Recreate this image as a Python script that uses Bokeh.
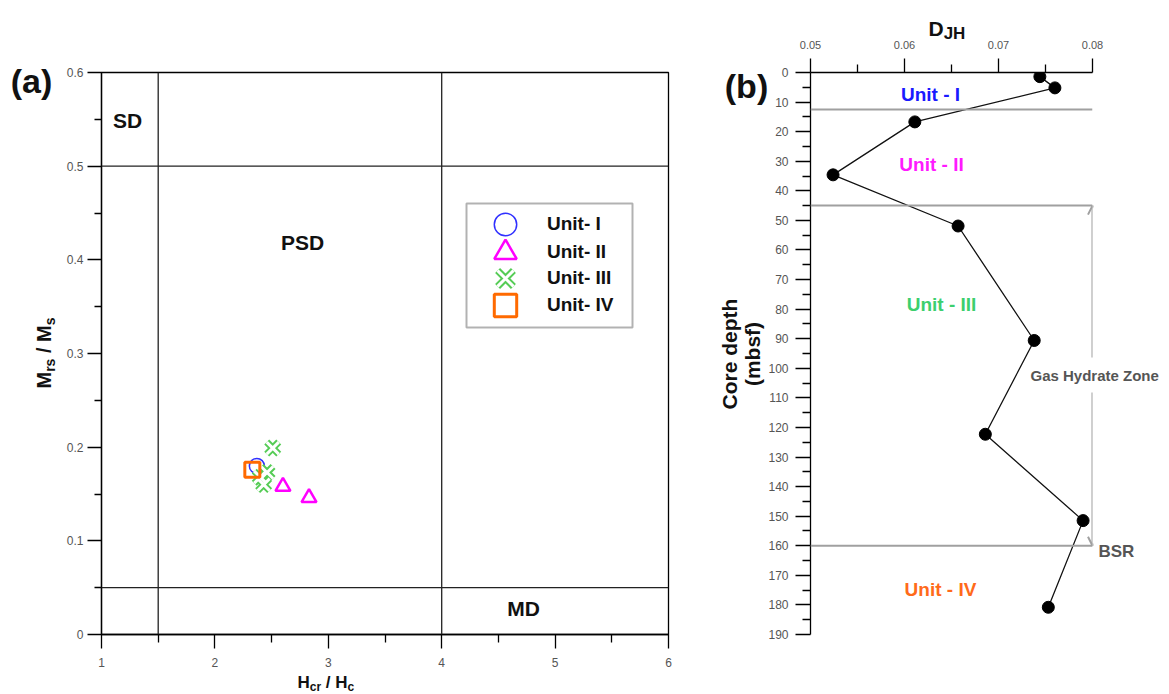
import math
from bokeh.plotting import figure
from bokeh.models import (Range1d, Span, Label, Legend, LegendItem, BoxAnnotation,
                          Arrow, OpenHead, FixedTicker, GridBox)
from bokeh.embed import file_html
from bokeh.resources import INLINE

FONT = "Liberation Sans"

# ---------------- Panel (a) data: Day plot ----------------
unit_labels = ["Unit- I", "Unit- II", "Unit- III", "Unit- IV"]
u1_hcr_hc = [2.37]
u1_mrs_ms = [0.180]
u2_hcr_hc = [2.60, 2.83]
u2_mrs_ms = [0.158, 0.146]
u3_hcr_hc = [2.51, 2.46, 2.43, 2.40]
u3_mrs_ms = [0.199, 0.173, 0.160, 0.168]
u4_hcr_hc = [2.33]
u4_mrs_ms = [0.176]
domain_x_bounds = [1.5, 4.0]
domain_y_bounds = [0.5, 0.05]
domain_names = ["SD", "PSD", "MD"]
a_xticks = [1, 2, 3, 4, 5, 6]
a_xminor = [1.5, 2.5, 3.5, 4.5, 5.5]
a_yticks = [0, 0.1, 0.2, 0.3, 0.4, 0.5, 0.6]
a_yminor = [0.05, 0.15, 0.25, 0.35, 0.45, 0.55]

# ---------------- Panel (b) data: DJH vs depth ----------------
djh = [0.0744, 0.0760, 0.0611, 0.0524, 0.0657, 0.0738, 0.0686, 0.0790, 0.0753]
depth = [1.4, 5.2, 16.7, 34.6, 51.9, 90.6, 122.3, 151.5, 180.8]
unit_boundaries = [12.5, 45, 160]
unit_names = ["Unit - I", "Unit - II", "Unit - III", "Unit - IV"]
unit_colors = ["#1a1aff", "#ff1aff", "#3ccf6e", "#ff6a1a"]
gas_hydrate_top = 45
bsr_depth = 160
b_xticks = [0.05, 0.06, 0.07, 0.08]
b_xminor = [0.055, 0.065, 0.075]
b_yticks = list(range(0, 200, 10))
b_yminor = list(range(5, 190, 10))

# --------------- layout (frames of both panels share top 72 / bottom 634) ---------------
TOP, BOT = 72, 634

def a_x(px):
    return 1 + (px - 101) * 5 / 567

def a_y(py):
    return 0.6 * (BOT - py) / (BOT - TOP)

def b_x(px):
    return 0.05 + (px - 810) * 0.03 / 282

def b_y(py):
    return 190 * (py - TOP) / (BOT - TOP)

W = {"M": .833, "r": .389, "s": .556, "/": .278, " ": .278, "H": .722, "c": .556,
     "D": .722, "J": .556}

def adv(t, size):
    return size * sum(W[c] for c in t)

def style_axis(ax, tick_out, minor_out, standoff):
    ax.axis_line_color = "black"
    ax.axis_line_width = 1.3
    ax.major_tick_line_color = "black"
    ax.minor_tick_line_color = "black"
    ax.major_tick_line_width = 1.3
    ax.minor_tick_line_width = 1.3
    ax.major_tick_in = 0
    ax.minor_tick_in = 0
    ax.major_tick_out = tick_out
    ax.minor_tick_out = minor_out
    ax.major_label_standoff = standoff
    ax.major_label_text_font = FONT
    ax.major_label_text_font_size = "12px"
    ax.major_label_text_color = "#555555"

# ================= Panel (a) =================
pa = figure(width=700, height=694, x_range=Range1d(1, 6), y_range=Range1d(0, 0.6),
            title=None, output_backend="svg", toolbar_location=None,
            min_border_left=101, min_border_right=32, min_border_top=TOP, min_border_bottom=694 - BOT)
pa.grid.visible = False
pa.outline_line_color = "black"
pa.outline_line_width = 1.3
pa.xaxis.ticker = FixedTicker(ticks=a_xticks, minor_ticks=a_xminor)
pa.yaxis.ticker = FixedTicker(ticks=a_yticks, minor_ticks=a_yminor)
pa.yaxis.major_label_overrides = {0: "0"}
style_axis(pa.xaxis[0], 14, 8, 9)
style_axis(pa.yaxis[0], 14, 7, 4)

for xb in domain_x_bounds:
    pa.add_layout(Span(location=xb, dimension="height", line_color="#222222", line_width=1.3))
for yb in domain_y_bounds:
    pa.add_layout(Span(location=yb, dimension="width", line_color="#222222", line_width=1.3))

r1 = pa.scatter(u1_hcr_hc, u1_mrs_ms, marker="circle", size=15, fill_color=None,
                line_color="#3030ff", line_width=1.5)
r2 = pa.scatter(u2_hcr_hc, u2_mrs_ms, marker="triangle", size=15, fill_color=None,
                line_color="#ff00ff", line_width=2.5)
r3a = pa.scatter(u3_hcr_hc, u3_mrs_ms, marker="x", size=17, line_color="#55cc55", line_width=7)
r3b = pa.scatter(u3_hcr_hc, u3_mrs_ms, marker="x", size=17, line_color="white", line_width=3)
r4 = pa.scatter(u4_hcr_hc, u4_mrs_ms, marker="square", size=15, fill_color=None,
                line_color="#ff6a00", line_width=3)

# one single-item legend per row so the rows can sit 27 px apart with large swatches
legend_renderers = [[r1], [r2], [r3a, r3b], [r4]]
row_centers_px = [224, 252, 278, 305]
for lab, rends, cy in zip(unit_labels, legend_renderers, row_centers_px):
    pa.add_layout(Legend(items=[LegendItem(label=lab, renderers=rends)],
                         location=(376, BOT - (cy + 28)), glyph_width=56, glyph_height=56,
                         spacing=0, padding=0, margin=0, label_standoff=14,
                         label_text_font=FONT, label_text_font_size="19px",
                         label_text_font_style="bold", label_text_color="#111111",
                         border_line_color=None, background_fill_alpha=0))
pa.add_layout(BoxAnnotation(left=a_x(466), right=a_x(632), top=a_y(203), bottom=a_y(327),
                            fill_alpha=0, line_color="black", line_width=2))

for name, (px, py) in zip(domain_names, [(127, 120), (302, 242), (523, 608)]):
    pa.add_layout(Label(x=a_x(px), y=a_y(py), text=name, text_align="center",
                        text_baseline="middle", text_font=FONT, text_font_size="21px",
                        text_font_style="bold", text_color="#111111"))

# ================= Panel (b) =================
pb = figure(width=469, height=694, x_range=Range1d(0.05, 0.08), y_range=Range1d(190, 0),
            title=None, x_axis_location="above", output_backend="svg", toolbar_location=None,
            min_border_left=110, min_border_right=77, min_border_top=TOP, min_border_bottom=694 - BOT)
pb.grid.visible = False
pb.outline_line_color = None
pb.xaxis.ticker = FixedTicker(ticks=b_xticks, minor_ticks=b_xminor)
pb.yaxis.ticker = FixedTicker(ticks=b_yticks, minor_ticks=b_yminor)
style_axis(pb.xaxis[0], 14, 8, 10)
style_axis(pb.yaxis[0], 15, 8, 7)
pb.xaxis.major_label_text_font_size = "11px"

for d in unit_boundaries:
    pb.add_layout(Span(location=d, dimension="width", line_color="#a0a0a0", line_width=2))

pb.line(djh, depth, line_color="#111111", line_width=1.3)
pb.scatter(djh, depth, marker="circle", size=12, fill_color="black", line_color="black")

head_kw = dict(size=9, line_color="#a0a0a0", line_width=2)
pb.add_layout(Arrow(x_start=0.08, y_start=b_y(357), x_end=0.08, y_end=gas_hydrate_top,
                    start=None, end=OpenHead(**head_kw), line_color="#a0a0a0", line_width=2))
pb.add_layout(Arrow(x_start=0.08, y_start=b_y(392), x_end=0.08, y_end=bsr_depth,
                    start=None, end=OpenHead(**head_kw), line_color="#a0a0a0", line_width=2))

for name, col, (px, py) in zip(unit_names, unit_colors,
                               [(930, 94), (931, 164), (941, 304), (940, 589)]):
    pb.add_layout(Label(x=b_x(px), y=b_y(py), text=name, text_align="center",
                        text_baseline="middle", text_font=FONT, text_font_size="19px",
                        text_font_style="bold", text_color=col))

# ====== transparent text layer over both panels (pixel coordinates, origin top-left) ======
ov = figure(width=1169, height=694, x_range=Range1d(0, 1169), y_range=Range1d(694, 0),
            title=None, x_axis_location=None, y_axis_location=None, min_border=0,
            output_backend="svg", toolbar_location=None,
            background_fill_color=None, border_fill_color=None, outline_line_color=None)
ov.grid.visible = False

def olabel(x, y, text, size, **kw):
    opts = dict(text_font=FONT, text_font_size=f"{size}px", text_font_style="bold",
                text_color="#111111", text_align="left", text_baseline="alphabetic")
    opts.update(kw)
    ov.add_layout(Label(x=x, y=y, text=text, **opts))

olabel(31, 80, "(a)", 34, text_align="center", text_baseline="middle")
olabel(746, 85, "(b)", 34, text_align="center", text_baseline="middle")

# x-axis title of (a): H_cr / H_c
pieces = [("H", 17, False), ("cr", 12, True), (" / ", 17, False), ("H", 17, False), ("c", 12, True)]
px = 297
for t, s, sub in pieces:
    lead = len(t) - len(t.lstrip(" "))
    olabel(px + adv(" " * lead, s), 686 if sub else 682, t.strip(), s)
    px += adv(t, s)

# y-axis title of (a): M_rs / M_s (rotated)
pieces = [("M", 20, False), ("rs", 14, True), (" / ", 20, False), ("M", 20, False), ("s", 14, True)]
py = 388
for t, s, sub in pieces:
    lead = len(t) - len(t.lstrip(" "))
    olabel(49 if sub else 43, py - adv(" " * lead, s), t.strip(), s, angle=math.pi / 2)
    py -= adv(t, s)

# axis titles of (b)
olabel(928, 28, "D", 21)
olabel(928 + adv("D", 21), 33, "JH", 17)
olabel(729, 353.5, "Core depth", 21, angle=math.pi / 2, text_align="center")
olabel(752, 353.5, "(mbsf)", 21, angle=math.pi / 2, text_align="center")

olabel(1030, 375, "Gas Hydrate Zone", 15, text_baseline="middle", text_color="#555555")
olabel(1098, 551, "BSR", 17, text_baseline="middle", text_color="#555555")

# empty outer tracks keep the overlay's edges from being aligned with the panels' frames
p = GridBox(children=[(pa, 1, 1), (pb, 1, 2), (ov, 0, 0, 3, 4)])
open("out.html", "w").write(file_html(p, INLINE))
